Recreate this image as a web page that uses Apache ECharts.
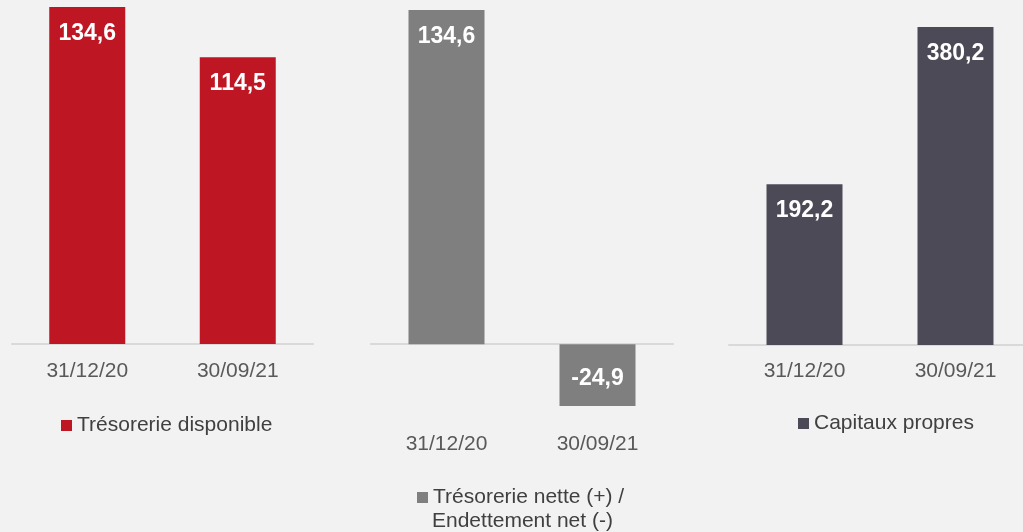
<!DOCTYPE html>
<html>
<head>
<meta charset="utf-8">
<script src="https://cdn.jsdelivr.net/npm/echarts@6/dist/echarts.min.js"></script>
<style>
  html, body { margin: 0; padding: 0; background: #f2f2f2; overflow: hidden; }
  #chart { width: 1040px; height: 532px; }
</style>
</head>
<body>
<div id="chart"></div>
<script>
// données
const dates = ["31/12/20", "30/09/21"];
const tresorerieDisponible = [134.6, 114.5];
const tresorerieNette = [134.6, -24.9];
const capitauxPropres = [192.2, 380.2];

const names = ["Trésorerie disponible", "Trésorerie nette (+) /", "Capitaux propres"];
const secondLine = "Endettement net (-)";

const colors = ["#be1622", "#7f7f7f", "#4c4a57"];
const font = "Liberation Sans, Arial, sans-serif";

const fmt = (p) => p.value.toFixed(1).replace(".", ",");

// le conteneur déborde un peu à droite : le 3e axe continue hors cadre
const chart = echarts.init(document.getElementById("chart"));

const xAxisBase = (gridIndex, margin) => ({
  type: "category",
  gridIndex,
  data: dates,
  axisLine: { show: true, onZero: true, lineStyle: { color: "#d9d9d9", width: 2 } },
  axisTick: { show: false },
  axisLabel: { color: "#595959", fontSize: 21, fontFamily: font, margin },
});

const yAxisBase = (gridIndex, min, max) => ({
  type: "value",
  gridIndex,
  min,
  max,
  show: false,
  splitLine: { show: false },
});

const barSeries = (name, data, idx) => ({
  name,
  type: "bar",
  xAxisIndex: idx,
  yAxisIndex: idx,
  data,
  barWidth: 76,
  itemStyle: { color: colors[idx] },
  label: {
    show: true,
    position: "insideTop",
    distance: 15,
    color: "#fff",
    fontWeight: "bold",
    fontSize: 23,
    fontFamily: font,
    formatter: fmt,
  },
});

const legendBase = (name, left, top) => ({
  data: [name],
  left,
  top,
  padding: 0,
  itemWidth: 11,
  itemHeight: 11,
  icon: "rect",
  itemGap: 5,
  textStyle: { color: "#404040", fontSize: 21, fontFamily: font },
  selectedMode: false,
});

const option = {
  backgroundColor: "#f2f2f2",
  animation: false,
  grid: [
    { left: 12, width: 301, top: 7, height: 337 },
    { left: 371, width: 302, top: 10, height: 396 },
    { left: 729, width: 302, top: 27, height: 318 },
  ],
  xAxis: [xAxisBase(0, 17), xAxisBase(1, 28), xAxisBase(2, 16)],
  yAxis: [
    yAxisBase(0, 0, 134.6),
    yAxisBase(1, -24.9, 134.6),
    yAxisBase(2, 0, 380.2),
  ],
  legend: [
    legendBase(names[0], 61, 415),
    legendBase(names[1], 417, 487),
    legendBase(names[2], 798, 413),
  ],
  graphic: [
    {
      type: "text",
      left: 432,
      top: 511,
      style: { text: secondLine, fill: "#404040", font: "21px " + font },
    },
  ],
  series: [
    barSeries(names[0], tresorerieDisponible, 0),
    Object.assign(barSeries(names[1], tresorerieNette, 1), {
      data: tresorerieNette.map((v) => ({
        value: v,
        label: v < 0 ? { position: "inside", offset: [0, 4] } : {},
      })),
    }),
    barSeries(names[2], capitauxPropres, 2),
  ],
};

chart.setOption(option);
</script>
</body>
</html>
